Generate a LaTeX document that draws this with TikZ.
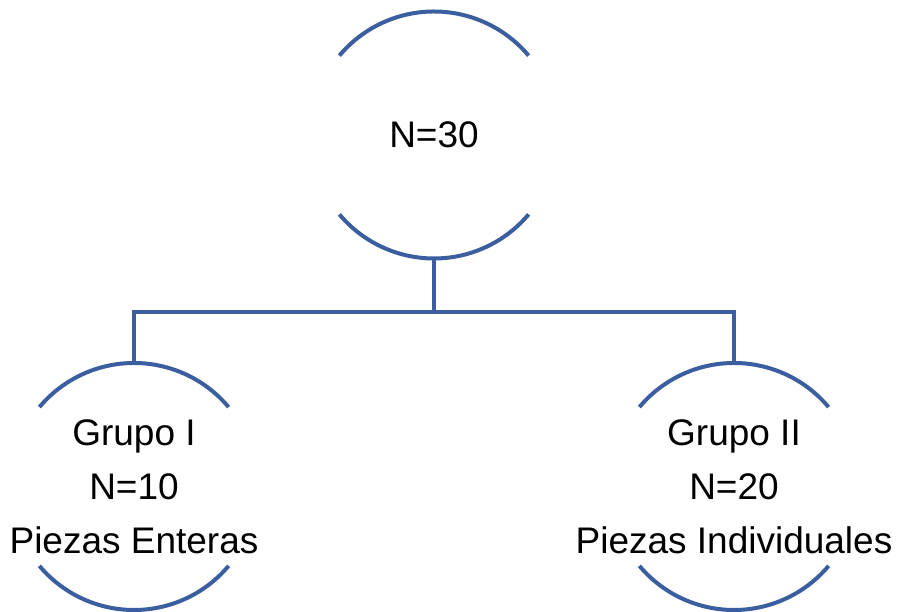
\documentclass[tikz,border=0pt]{standalone}
\usepackage{fontspec}
\setmainfont{Liberation Sans}
\usetikzlibrary{positioning}
\definecolor{arcblue}{RGB}{58,94,160}
\begin{document}
\begin{tikzpicture}[x=1pt,y=1pt,
    group/.style={circle,minimum size=247pt,inner sep=0pt,outer sep=0pt},
    caption/.style={align=center,inner sep=0pt,font=\fontsize{37}{54}\selectfont},
    rim/.style={line width=4pt,arcblue},
    link/.style={line width=4pt,arcblue}]
      \useasboundingbox (0,0) rectangle (898,612);
      \node[group] (total) at (434,477) {};
      \node[group] (grupoI) at (134,125.5) {};
      \node[group] (grupoII) at (734,125.5) {};
      \node[caption] (totalText) at (total) {N=30};
      \node[caption] (grupoIText) at (grupoI) {Grupo I\\N=10\\Piezas Enteras};
      \node[caption] (grupoIIText) at (grupoII) {Grupo II\\N=20\\Piezas Individuales};
      \foreach \g in {total,grupoI,grupoII} {
        \draw[rim] (\g.40) arc (40:140:123.5);
        \draw[rim] (\g.220) arc (220:320:123.5);
      }
      \coordinate (fork) at ([yshift=-54pt]total.south);
      \draw[link] (total.south) -- (fork) -| (grupoI.north);
      \draw[link] (fork) -| (grupoII.north);
    \end{tikzpicture}
\end{document}
